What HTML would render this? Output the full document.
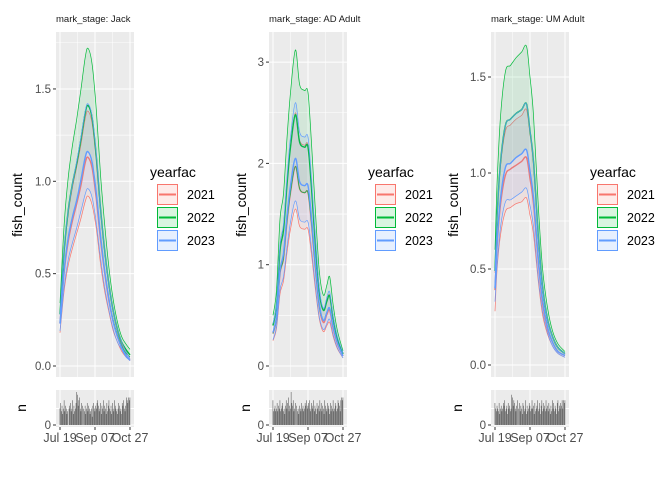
<!DOCTYPE html>
<html><head><meta charset="utf-8"><style>
body{margin:0;background:#fff;}
svg{display:block;font-family:"Liberation Sans",Arial,sans-serif;}
</style></head><body>
<svg id="chart" width="672" height="480" viewBox="0 0 672 480" xmlns="http://www.w3.org/2000/svg"></svg>
<script>
// ---------- data ----------
const years = ["2021","2022","2023"];
const colors = ["#F8766D","#00BA38","#619CFF"];
const xTickLabels = ["Jul 19","Sep 07","Oct 27"];
const xTickDays = [0,50,100];

// Jack
const jackDays = [0,6,12,18,24,30,36,40,46,52,58,64,70,76,82,88,94,100];
const jackRedLo  = [0.18,0.41,0.55,0.64,0.72,0.80,0.89,0.92,0.87,0.74,0.55,0.40,0.29,0.19,0.13,0.08,0.05,0.03];
const jackRedMid = [0.23,0.51,0.68,0.79,0.88,0.98,1.10,1.13,1.07,0.90,0.68,0.50,0.35,0.24,0.16,0.10,0.06,0.03];
const jackRedHi  = [0.28,0.62,0.83,0.97,1.08,1.20,1.34,1.38,1.31,1.10,0.83,0.61,0.43,0.29,0.19,0.12,0.08,0.04];
const jackGreenLo  = [0.23,0.52,0.70,0.81,0.90,1.01,1.13,1.16,1.10,0.93,0.70,0.51,0.36,0.25,0.17,0.11,0.07,0.05];
const jackGreenMid = [0.28,0.63,0.85,0.99,1.10,1.23,1.37,1.41,1.34,1.13,0.85,0.62,0.44,0.30,0.20,0.13,0.09,0.06];
const jackGreenHi  = [0.34,0.77,1.03,1.20,1.34,1.50,1.67,1.72,1.63,1.38,1.03,0.76,0.53,0.36,0.24,0.16,0.12,0.09];
const jackBlueLo  = [0.19,0.43,0.58,0.67,0.75,0.84,0.93,0.96,0.91,0.77,0.58,0.42,0.30,0.20,0.13,0.09,0.05,0.03];
const jackBlueMid = [0.23,0.52,0.70,0.81,0.90,1.01,1.13,1.16,1.10,0.93,0.70,0.51,0.36,0.24,0.16,0.10,0.06,0.03];
const jackBlueHi  = [0.28,0.64,0.85,0.99,1.11,1.24,1.38,1.42,1.35,1.14,0.85,0.62,0.44,0.30,0.20,0.13,0.08,0.04];
const jackYTicks = [0,0.5,1,1.5];
const jackYLabels = ["0.0","0.5","1.0","1.5"];
const jackCounts = [6,8,5,7,4,6,9,5,7,6,4,5,0,6,7,8,5,6,9,4,7,5,6,8,12,11,7,9,10,6,5,8,7,0,6,5,7,4,6,8,5,7,6,4,5,6,3,7,8,6,5,7,6,8,9,7,5,6,8,4,7,6,9,5,7,6,4,8,5,7,9,6,5,7,4,8,6,5,9,7,6,5,4,6,8,7,5,6,4,8,7,9,6,5,7,10,9,8,10,9,10];

// AD Adult
const adDays = [0,5,10,15,20,25,32,38,45,50,55,60,66,72,77,81,86,92,100];
const adRedLo  = [0.25,0.37,0.71,0.84,1.12,1.35,1.55,1.38,1.35,1.35,1.10,0.79,0.47,0.34,0.40,0.43,0.29,0.17,0.08];
const adRedMid = [0.32,0.47,0.91,1.06,1.42,1.71,1.97,1.75,1.71,1.71,1.40,1.00,0.59,0.43,0.51,0.55,0.37,0.22,0.10];
const adRedHi  = [0.40,0.60,1.15,1.35,1.80,2.18,2.50,2.23,2.18,2.18,1.78,1.28,0.75,0.55,0.65,0.70,0.48,0.28,0.13];
const adGreenLo  = [0.32,0.47,0.91,1.06,1.42,1.71,1.97,1.75,1.71,1.71,1.40,1.00,0.59,0.45,0.53,0.57,0.39,0.24,0.12];
const adGreenMid = [0.40,0.60,1.14,1.34,1.79,2.16,2.48,2.21,2.16,2.16,1.76,1.26,0.74,0.55,0.64,0.69,0.47,0.27,0.12];
const adGreenHi  = [0.50,0.75,1.45,1.70,2.25,2.70,3.12,2.78,2.72,2.70,2.20,1.60,0.95,0.70,0.80,0.88,0.60,0.35,0.15];
const adBlueLo  = [0.26,0.39,0.75,0.88,1.17,1.42,1.63,1.45,1.42,1.42,1.16,0.83,0.49,0.36,0.42,0.46,0.31,0.18,0.08];
const adBlueMid = [0.33,0.49,0.94,1.11,1.48,1.78,2.05,1.82,1.78,1.78,1.46,1.05,0.62,0.45,0.53,0.57,0.39,0.23,0.10];
const adBlueHi  = [0.42,0.62,1.20,1.40,1.87,2.26,2.60,2.31,2.26,2.26,1.85,1.33,0.78,0.57,0.68,0.73,0.49,0.29,0.13];
const adYTicks = [0,1,2,3];
const adYLabels = ["0","1","2","3"];
const adCounts = [9,5,6,7,5,6,8,5,7,6,9,5,6,7,8,5,6,4,7,9,6,8,10,5,7,6,12,8,7,9,5,6,8,0,7,5,6,4,7,6,5,8,6,7,5,6,8,7,9,6,7,8,9,6,5,8,7,6,9,5,7,6,4,8,6,7,5,9,6,8,5,7,6,4,9,7,6,5,8,7,6,4,8,5,7,6,9,5,6,8,7,5,6,9,8,7,5,9,10,9,10];

// UM Adult
const umDays = [0,3,8,15,22,30,38,45,50,55,62,68,75,82,90,100];
const umRedLo  = [0.28,0.50,0.68,0.80,0.82,0.84,0.85,0.87,0.78,0.68,0.43,0.26,0.16,0.10,0.06,0.04];
const umRedMid = [0.39,0.62,0.84,0.99,1.02,1.04,1.06,1.08,0.97,0.84,0.53,0.32,0.19,0.12,0.07,0.05];
const umRedHi  = [0.48,0.76,1.04,1.22,1.25,1.28,1.30,1.33,1.20,1.04,0.65,0.40,0.24,0.15,0.09,0.06];
const umGreenLo  = [0.40,0.64,0.87,1.03,1.05,1.08,1.10,1.12,1.01,0.87,0.55,0.34,0.20,0.12,0.07,0.05];
const umGreenMid = [0.49,0.78,1.06,1.25,1.28,1.31,1.33,1.36,1.22,1.06,0.67,0.41,0.24,0.15,0.09,0.06];
const umGreenHi  = [0.60,0.95,1.30,1.53,1.56,1.60,1.63,1.66,1.50,1.30,0.82,0.50,0.30,0.18,0.11,0.07];
const umBlueLo  = [0.33,0.52,0.72,0.85,0.86,0.88,0.90,0.92,0.83,0.72,0.45,0.28,0.17,0.10,0.06,0.04];
const umBlueMid = [0.40,0.64,0.87,1.03,1.05,1.08,1.10,1.12,1.01,0.87,0.55,0.34,0.20,0.12,0.07,0.05];
const umBlueHi  = [0.49,0.78,1.06,1.25,1.28,1.31,1.33,1.36,1.22,1.06,0.67,0.41,0.24,0.15,0.09,0.06];
const umYTicks = [0,0.5,1,1.5];
const umYLabels = ["0.0","0.5","1.0","1.5"];
const umCounts = [8,6,5,7,6,5,8,4,6,7,5,6,8,7,9,5,6,7,4,8,6,7,5,6,11,10,7,9,8,6,5,7,9,0,6,8,5,7,6,4,8,7,5,6,9,4,7,5,6,8,7,5,6,9,6,7,4,8,5,6,7,9,5,6,8,4,7,9,5,8,6,7,5,9,6,7,5,8,6,4,7,5,9,6,8,5,7,6,4,8,9,5,7,6,8,7,9,6,9,8,9];

// ---------- drawing ----------
const NS = "http://www.w3.org/2000/svg";
const svg = document.getElementById("chart");
function mk(tag, attrs, parent){
  const e = document.createElementNS(NS, tag);
  for (const k in attrs) e.setAttribute(k, attrs[k]);
  (parent||svg).appendChild(e);
  return e;
}
// Catmull-Rom smoothing through points
function smoothPath(pts, start){
  let d = start ? "M" + pts[0][0].toFixed(2) + "," + pts[0][1].toFixed(2) : "L" + pts[0][0].toFixed(2) + "," + pts[0][1].toFixed(2);
  for (let i = 0; i < pts.length - 1; i++) {
    const p0 = pts[Math.max(0,i-1)], p1 = pts[i], p2 = pts[i+1], p3 = pts[Math.min(pts.length-1,i+2)];
    const c1x = p1[0] + (p2[0]-p0[0])/6, c1y = p1[1] + (p2[1]-p0[1])/6;
    const c2x = p2[0] - (p3[0]-p1[0])/6, c2y = p2[1] - (p3[1]-p1[1])/6;
    d += "C" + c1x.toFixed(2)+","+c1y.toFixed(2)+" "+c2x.toFixed(2)+","+c2y.toFixed(2)+" "+p2[0].toFixed(2)+","+p2[1].toFixed(2);
  }
  return d;
}

const panels = [
  {key:"jack", title:"mark_stage: Jack", x0:56, x1:134, y0pix:366, unit:184.7, days:jackDays,
   series:[[jackRedLo,jackRedMid,jackRedHi],[jackGreenLo,jackGreenMid,jackGreenHi],[jackBlueLo,jackBlueMid,jackBlueHi]],
   yt:jackYTicks, yl:jackYLabels, counts:jackCounts, axTitleX:22, legX:150},
  {key:"ad-adult", title:"mark_stage: AD Adult", x0:269, x1:347, y0pix:366, unit:101.3, days:adDays,
   series:[[adRedLo,adRedMid,adRedHi],[adGreenLo,adGreenMid,adGreenHi],[adBlueLo,adBlueMid,adBlueHi]],
   yt:adYTicks, yl:adYLabels, counts:adCounts, axTitleX:246, legX:368},
  {key:"um-adult", title:"mark_stage: UM Adult", x0:491, x1:569, y0pix:365, unit:192, days:umDays,
   series:[[umRedLo,umRedMid,umRedHi],[umGreenLo,umGreenMid,umGreenHi],[umBlueLo,umBlueMid,umBlueHi]],
   yt:umYTicks, yl:umYLabels, counts:umCounts, axTitleX:458, legX:590}
];

const topY = 32, botY = 377, hTop = 390, hBot = 427, hBase = 425;

panels.forEach(p => {
  const g = mk("g", {});
  
  
  const xs = d => p.x0 + 4 + d * ((p.x1 - p.x0 - 8) / 100);
  const ys = v => p.y0pix - v * p.unit;

  const title = mk("text", {x:p.x0, y:22, "font-size":"9.5", fill:"#1a1a1a"}, g);
  title.textContent = p.title;
  
  

  const bg = mk("rect", {x:p.x0, y:topY, width:p.x1-p.x0, height:botY-topY, fill:"#EBEBEB"}, g);
  
  
  for (let i = 0; i < p.yt.length; i++) {
    const step = p.yt[1] - p.yt[0];
    [p.yt[i] - step/2, p.yt[i] + step/2].forEach(v => {
      const y = ys(v);
      if (y > topY && y < botY) mk("line", {x1:p.x0, x2:p.x1, y1:y, y2:y, stroke:"#fff", "stroke-width":0.5}, g);
    });
  }
  [25,75].forEach(d => {
    mk("line", {x1:xs(d), x2:xs(d), y1:topY, y2:botY, stroke:"#fff", "stroke-width":0.5}, g);
    mk("line", {x1:xs(d), x2:xs(d), y1:hTop, y2:hBot, stroke:"#fff", "stroke-width":0.5}, g);
  });
  p.yt.forEach((v, i) => {
    const y = ys(v);
    mk("line", {x1:p.x0, x2:p.x1, y1:y, y2:y, stroke:"#fff", "stroke-width":1}, g);
    mk("line", {x1:p.x0-3, x2:p.x0, y1:y, y2:y, stroke:"#333", "stroke-width":1}, g);
    const t = mk("text", {x:p.x0-5, y:y+4, "font-size":"11.5", fill:"#4d4d4d", "text-anchor":"end"}, g);
    t.textContent = p.yl[i];
    
    
  });
  xTickDays.forEach(d => {
    mk("line", {x1:xs(d), x2:xs(d), y1:topY, y2:botY, stroke:"#fff", "stroke-width":1}, g);
  });

  p.series.forEach((s, k) => {
    const [lo, mid, hi] = s;
    const hiPts = p.days.map((d,i) => [xs(d), ys(hi[i])]);
    const loPts = p.days.map((d,i) => [xs(d), ys(lo[i])]).reverse();
    const dstr = smoothPath(hiPts, true) + smoothPath(loPts, false) + "Z";
    const rib = mk("path", {d:dstr, fill:colors[k], "fill-opacity":0.1, stroke:"none"}, g);
    
    
    [[lo,0.7],[hi,0.7],[mid,1.4]].forEach(([arr,w], j) => {
      const pts = p.days.map((d,i) => [xs(d), ys(arr[i])]);
      const ln = mk("path", {d:smoothPath(pts, true), fill:"none", stroke:colors[k], "stroke-width":w}, g);
      
      
    });
  });

  const at = mk("text", {x:p.axTitleX, y:205, "font-size":"14", fill:"#000", "text-anchor":"middle",
    transform:`rotate(-90 ${p.axTitleX} 205)`}, g);
  at.textContent = "fish_count";
  
  

  const hb = mk("rect", {x:p.x0, y:hTop, width:p.x1-p.x0, height:hBot-hTop, fill:"#EBEBEB"}, g);
  
  
  const maxC = 12;
  const hs = v => hBase - v * ((hBase - hTop - 2) / maxC);
  mk("line", {x1:p.x0, x2:p.x1, y1:hs(6), y2:hs(6), stroke:"#fff", "stroke-width":1}, g);
  mk("line", {x1:p.x0, x2:p.x1, y1:hBase, y2:hBase, stroke:"#fff", "stroke-width":1}, g);
  xTickDays.forEach(d => mk("line", {x1:xs(d), x2:xs(d), y1:hTop, y2:hBot, stroke:"#fff", "stroke-width":1}, g));
  const bw = (p.x1 - p.x0 - 8) / 100;
  p.counts.forEach((c, i) => {
    if (c <= 0) return;
    const b = mk("rect", {x:xs(i)-bw/2, y:hs(c), width:bw*0.8, height:hBase-hs(c), fill:"#595959"}, g);
    
    
  });
  mk("line", {x1:p.x0-3, x2:p.x0, y1:hBase, y2:hBase, stroke:"#333"}, g);
  const z = mk("text", {x:p.x0-5, y:hBase+4, "font-size":"11.5", fill:"#4d4d4d", "text-anchor":"end"}, g);
  z.textContent = "0";
  
  
  const nt = mk("text", {x:p.axTitleX+4, y:408, "font-size":"14", fill:"#000", "text-anchor":"middle",
    transform:`rotate(-90 ${p.axTitleX+4} 408)`}, g);
  nt.textContent = "n";
  
  
  xTickDays.forEach((d, i) => {
    mk("line", {x1:xs(d), x2:xs(d), y1:hBot, y2:hBot+3, stroke:"#333"}, g);
    const t = mk("text", {x:xs(d), y:442, "font-size":"12.5", fill:"#4d4d4d", "text-anchor":"middle"}, g);
    t.textContent = xTickLabels[i];
    
    
  });

  const lg = mk("g", {}, g);
  
  
  const lt = mk("text", {x:p.legX, y:177, "font-size":"14", fill:"#000"}, lg);
  lt.textContent = "yearfac";
  
  
  years.forEach((yr, k) => {
    const y = 184 + k*23;
    const e = mk("g", {}, lg);
    
    
    mk("rect", {x:p.legX+7, y:y, width:21, height:21, fill:"#fff"}, e);
    mk("rect", {x:p.legX+7.5, y:y+0.5, width:20, height:20, fill:colors[k], "fill-opacity":0.15, stroke:colors[k], "stroke-width":1}, e);
    mk("line", {x1:p.legX+9, x2:p.legX+26, y1:y+10.5, y2:y+10.5, stroke:colors[k], "stroke-width":2}, e);
    const tx = mk("text", {x:p.legX+37, y:y+15, "font-size":"12.5", fill:"#000"}, e);
    tx.textContent = yr;
  });
});
</script>
</body></html>
